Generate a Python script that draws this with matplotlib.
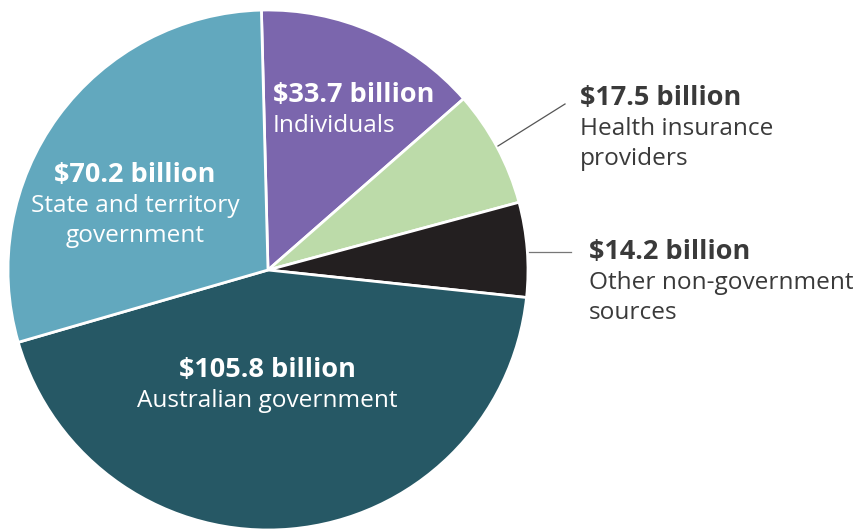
import matplotlib.pyplot as plt

plt.rcParams['font.family'] = ['Open Sans', 'DejaVu Sans']

# slices clockwise from the top
amounts = [33.7, 17.5, 14.2, 105.8, 70.2]
amount_labels = ['$33.7 billion', '$17.5 billion', '$14.2 billion',
                 '$105.8 billion', '$70.2 billion']
names = [['Individuals'], ['Health insurance', 'providers'],
         ['Other non-government', 'sources'], ['Australian government'],
         ['State and territory', 'government']]
colors = ['#7B66AD', '#BCDBA9', '#231F20', '#265865', '#62A8BE']

W, H = 859, 530
fig = plt.figure(figsize=(W / 100, H / 100), dpi=100)
ax = fig.add_axes([8 / W, 0, 520 / W, 520 / H])
start = 41.2 + 360 * amounts[0] / sum(amounts)
ax.pie(amounts, colors=colors, startangle=start, counterclock=False,
       wedgeprops=dict(edgecolor='white', linewidth=2))
ax.set_xlim(-1, 1)
ax.set_ylim(-1, 1)
ax.set_aspect('equal')


def px(x, y):
    return x / W, 1 - y / H


def label(x, y, i, color, ha):
    fig.text(*px(x, y), amount_labels[i], color=color, fontsize=19.5,
             fontweight='bold', ha=ha, va='center_baseline')
    for k, line in enumerate(names[i]):
        fig.text(*px(x, y + 31 + 30 * k), line, color=color, fontsize=17.6,
                 ha=ha, va='center_baseline')


text_dark = '#3A3A3A'
label(273, 92, 0, 'white', 'left')
label(135, 172, 4, 'white', 'center')
label(267, 367, 3, 'white', 'center')
label(580, 95, 1, text_dark, 'left')
label(589, 249, 2, text_dark, 'left')

# leader lines
fig.add_artist(plt.Line2D([498 / W, 565 / W], [1 - 146 / H, 1 - 104 / H],
                          color='#555555', linewidth=0.9))
fig.add_artist(plt.Line2D([529 / W, 571 / W], [1 - 252 / H, 1 - 252 / H],
                          color='#777777', linewidth=0.9))

fig.savefig('out.png', dpi=100)
